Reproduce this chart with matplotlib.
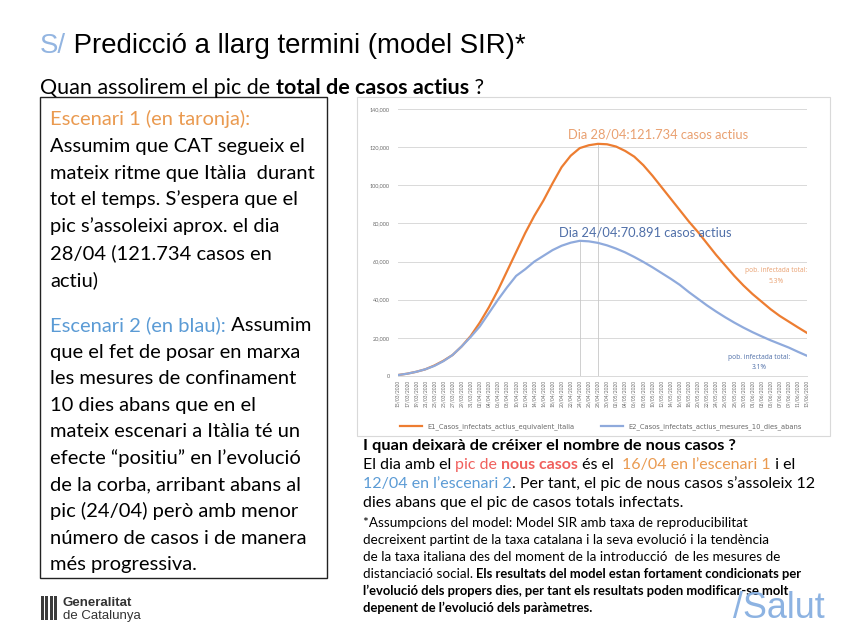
import matplotlib
matplotlib.use("Agg")
import matplotlib.pyplot as plt
from matplotlib.patches import Rectangle
from matplotlib.lines import Line2D
from matplotlib.font_manager import FontProperties
import numpy as np

# ---------------- data ----------------
dates = ["15/03/2020", "17/03/2020", "19/03/2020", "21/03/2020", "23/03/2020",
         "25/03/2020", "27/03/2020", "29/03/2020", "31/03/2020", "02/04/2020",
         "04/04/2020", "06/04/2020", "08/04/2020", "10/04/2020", "12/04/2020",
         "14/04/2020", "16/04/2020", "18/04/2020", "20/04/2020", "22/04/2020",
         "24/04/2020", "26/04/2020", "28/04/2020", "30/04/2020", "02/05/2020",
         "04/05/2020", "06/05/2020", "08/05/2020", "10/05/2020", "12/05/2020",
         "14/05/2020", "16/05/2020", "18/05/2020", "20/05/2020", "22/05/2020",
         "24/05/2020", "26/05/2020", "28/05/2020", "30/05/2020", "01/06/2020",
         "03/06/2020", "05/06/2020", "07/06/2020", "09/06/2020", "11/06/2020",
         "13/06/2020"]

e1_actius = [500, 1200, 2200, 3500, 5500, 8000, 11000, 15500, 21000, 28000,
             36000, 45000, 55000, 65000, 75000, 84000, 92000, 101000, 109500, 115500,
             119500, 121000, 121734, 121500, 120300, 118000, 115000, 110500, 105000, 99000,
             93000, 87000, 81000, 75500, 69500, 63500, 58000, 52500, 47500, 43000,
             39000, 35000, 31500, 28500, 25500, 22600]

e2_actius = [500, 1200, 2200, 3500, 5300, 7800, 11000, 15500, 20500, 26000,
             33000, 40000, 46500, 52500, 56000, 60000, 63000, 66000, 68300, 69900,
             70891, 70600, 69800, 68500, 66800, 64800, 62400, 59800, 57000, 54000,
             51000, 47800, 44000, 40500, 37000, 33800, 30800, 28000, 25400, 23000,
             20800, 18700, 16800, 14900, 12700, 10600]

yticks = [0, 20000, 40000, 60000, 80000, 100000, 120000, 140000]
legend_labels = ["E1_Casos_infectats_actius_equivalent_Italia",
                 "E2_Casos_infectats_actius_mesures_10_dies_abans"]

# ---------------- styles ----------------
W, H = 854, 640
K = "#000000"
ORANGE_T = "#EA9A50"
BLUE_T = "#5B9BD5"
RED_T = "#F0605D"
LINE_OR = "#ED7D31"
LINE_BL = "#8FAADC"
ANN_OR = "#E9A070"
ANN_BL = "#4F6FA8"
SANS = ["Lato", "DejaVu Sans"]
SMALL = ["Open Sans", "DejaVu Sans"]
ARIAL = ["Liberation Sans", "DejaVu Sans"]
NARROW = ["Liberation Sans Narrow", "Liberation Sans"]

fig = plt.figure(figsize=(W / 100, H / 100), dpi=100)
fig.patch.set_facecolor("white")
renderer = fig.canvas.get_renderer()


def fx(px):
    return px / W


def fy(py):
    return 1 - py / H


def text_w(s, fp):
    w1, _, _ = renderer.get_text_width_height_descent("|" + s + "|", fp, ismath=False)
    w0, _, _ = renderer.get_text_width_height_descent("||", fp, ismath=False)
    return w1 - w0


def fit_size(s, family, weight, target_px):
    fp = FontProperties(family=family, weight=weight, size=10)
    return 10 * target_px / text_w(s, fp)


def runs(x_px, y_px, parts, size, family=SANS, bold_size=None):
    x = x_px
    for part in parts:
        txt, color = part[0], part[1]
        weight = part[2] if len(part) > 2 else "normal"
        sz = bold_size if (bold_size and weight == "bold") else size
        fp = FontProperties(family=family, weight=weight, size=sz)
        fig.text(fx(x), fy(y_px), txt, color=color, fontproperties=fp,
                 va="baseline", ha="left")
        x += text_w(txt, fp)


# ---------------- title ----------------
tsize = fit_size("S/ Predicció a llarg termini (model SIR)*", ARIAL, "normal", 490)
runs(40, 53, [("S/", "#93B5E1"), (" Predicció a llarg termini (model SIR)*", K)], tsize, ARIAL)

ssize = fit_size("Quan assolirem el pic de total de casos actius ?", SANS, "normal", 440)
runs(40, 94, [("Quan assolirem el pic de ", K), ("total de casos actius", K, "bold"), (" ?", K)], ssize)

# ---------------- left box ----------------
fig.patches.append(Rectangle((fx(40), fy(578)), (327 - 40) / W, (578 - 97) / H,
                             transform=fig.transFigure, fill=False, ec="#222222", lw=1.0))
bsize = fit_size("Assumim que CAT segueix el", SANS, "normal", 255)
group1 = [
    [("Escenari 1 (en taronja):", ORANGE_T)],
    [("Assumim que CAT segueix el", K)],
    [("mateix ritme que Itàlia  durant", K)],
    [("tot el temps. S’espera que el", K)],
    [("pic s’assoleixi aprox. el dia", K)],
    [("28/04 (121.734 casos en", K)],
    [("actiu)", K)],
]
group2 = [
    [("Escenari 2 (en blau):", BLUE_T), (" Assumim", K)],
    [("que el fet de posar en marxa", K)],
    [("les mesures de confinament", K)],
    [("10 dies abans que en el", K)],
    [("mateix escenari a Itàlia té un", K)],
    [("efecte “positiu” en l’evolució", K)],
    [("de la corba, arribant abans al", K)],
    [("pic (24/04) però amb menor", K)],
    [("número de casos i de manera", K)],
    [("més progressiva.", K)],
]
for k, parts in enumerate(group1):
    runs(50, 125 + 26.8 * k, parts, bsize)
for k, parts in enumerate(group2):
    runs(50, 331 + 26.6 * k, parts, bsize)

# ---------------- chart ----------------
fig.patches.append(Rectangle((fx(357), fy(436)), (830 - 357) / W, (436 - 97) / H,
                             transform=fig.transFigure, fill=False, ec="#D9D9D9", lw=0.8))
ax = fig.add_axes([fx(398), fy(376), (807 - 398) / W, (376 - 109) / H])
xi = np.arange(len(dates))
ax.plot(xi, e1_actius, color=LINE_OR, lw=1.6, solid_joinstyle="round", zorder=3)
ax.plot(xi, e2_actius, color=LINE_BL, lw=1.6, solid_joinstyle="round", zorder=3)
p1 = int(np.argmax(e1_actius))
p2 = int(np.argmax(e2_actius))
ax.vlines([p2, p1], 0, [e2_actius[p2], e1_actius[p1]], color="#C8C8C8", lw=0.6, zorder=2)
ax.set_xlim(0, len(dates) - 1)
ax.set_ylim(0, 140000)
ax.set_yticks(yticks)
ax.set_yticklabels([f"{v:,}" for v in yticks], fontsize=4, color="#6B6B6B", family=SANS)
ax.set_xticks(xi)
ax.set_xticklabels(dates, rotation=90, fontsize=3.5, color="#6B6B6B", family=SANS)
ax.tick_params(axis="both", length=0, pad=6)
ax.tick_params(axis="x", pad=3)
ax.grid(axis="y", color="#D9D9D9", lw=0.7)
ax.set_axisbelow(True)
for s in ["top", "right", "left"]:
    ax.spines[s].set_visible(False)
ax.spines["bottom"].set_color("#D9D9D9")
ax.spines["bottom"].set_linewidth(0.7)
ax.patch.set_alpha(0)

asize = fit_size("Dia 28/04:121.734 casos actius", SANS, "normal", 180)
ax.text(p1 + 6.6, 126500, f"Dia {dates[p1][:5]}:121.734 casos actius", color=ANN_OR,
        fontsize=asize, family=SANS, ha="center", va="center")
ax.text(p2 + 7.2, 75300, f"Dia {dates[p2][:5]}:70.891 casos actius", color=ANN_BL,
        fontsize=asize, family=SANS, ha="center", va="center")
ax.text(41.6, 52500, "pob. infectada total:\n5.3%", color=ANN_OR, fontsize=4.8,
        family=SMALL, ha="center", va="center", linespacing=1.7)
ax.text(39.7, 7000, "pob. infectada total:\n3.1%", color=ANN_BL, fontsize=4.8,
        family=SMALL, ha="center", va="center", linespacing=1.7)

handles = [Line2D([], [], color=LINE_OR, lw=1.6), Line2D([], [], color=LINE_BL, lw=1.6)]
fig.legend(handles, legend_labels, loc="center", bbox_to_anchor=(fx(601), fy(427)),
           ncol=2, frameon=False, fontsize=4.9, handlelength=3.2, columnspacing=4,
           labelcolor="#6B6B6B")

# ---------------- text below chart ----------------
hsize = fit_size("I quan deixarà de créixer el nombre de nous casos ?", SANS, "bold", 375)
runs(363, 450, [("I quan deixarà de créixer el nombre de nous casos ?", K, "bold")], hsize)
lsize = fit_size("El dia amb el pic de nous casos és el  16/04 en l’escenari 1 i el", SANS, "normal", 432)
runs(363, 469, [("El dia amb el ", K), ("pic de ", RED_T), ("nous casos", RED_T, "bold"),
                (" és el  ", K), ("16/04 en l’escenari 1", ORANGE_T), (" i el", K)], lsize)
runs(363, 488, [("12/04 en l’escenari 2", BLUE_T), (". Per tant, el pic de nous casos s’assoleix 12", K)], lsize)
runs(363, 507, [("dies abans que el pic de casos totals infectats.", K)], lsize)

fsize = fit_size("decreixent partint de la taxa catalana i la seva evolució i la tendència", SANS, "normal", 402)
fbsize = fit_size("l’evolució dels propers dies, per tant els resultats poden modificar-se molt", SANS, "bold", 428)
foot = [
    [("*Assumpcions del model: Model SIR amb taxa de reproducibilitat", K)],
    [("decreixent partint de la taxa catalana i la seva evolució i la tendència", K)],
    [("de la taxa italiana des del moment de la introducció  de les mesures de", K)],
    [("distanciació social. ", K), ("Els resultats del model estan fortament condicionats per", K, "bold")],
    [("l’evolució dels propers dies, per tant els resultats poden modificar-se molt", K, "bold")],
    [("depenent de l’evolució dels paràmetres.", K, "bold")],
]
for k, parts in enumerate(foot):
    runs(363, 527 + 17 * k, parts, fsize, bold_size=fbsize)

# ---------------- footer logos ----------------
for i in range(4):
    fig.patches.append(Rectangle((fx(41 + i * 4.3), fy(620)), 3.0 / W, 24 / H,
                                 transform=fig.transFigure, color="#3C3C3C", lw=0))
fig.text(fx(63), fy(606), "Generalitat", fontsize=9.5, family=NARROW,
         fontweight="bold", color="#333333", va="baseline")
fig.text(fx(63), fy(619), "de Catalunya", fontsize=9.5, family=NARROW,
         color="#333333", va="baseline")
salut_size = fit_size("/Salut", NARROW, "normal", 92)
fig.text(fx(733), fy(618), "/Salut", fontsize=salut_size,
         family=NARROW, color="#8DB3E2", va="baseline")

fig.savefig("out.png", dpi=100, facecolor="white")
